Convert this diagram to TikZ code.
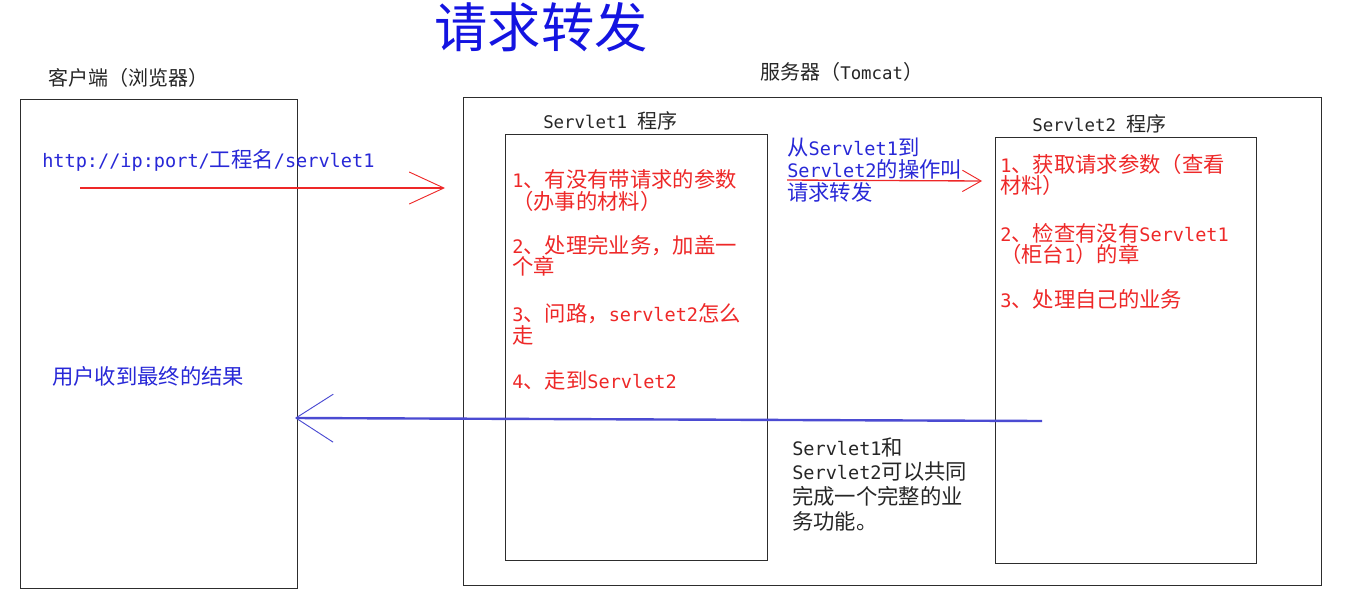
\documentclass[tikz,border=0pt]{standalone}
\usepackage{fontspec}
\setmainfont{Noto Sans CJK SC}
\newfontfamily\latfont{DejaVu Sans Mono}[Scale=0.87]
\newcommand\lat[1]{{\latfont #1}}
\usetikzlibrary{arrows.meta}
\definecolor{rtxt}{RGB}{238,40,40}
\definecolor{btxt}{RGB}{40,40,215}
\definecolor{ttl}{RGB}{20,20,225}
\definecolor{barrow}{RGB}{75,75,210}
\definecolor{frame}{RGB}{45,45,45}
\tikzset{
  box/.style={draw=frame, line width=1.1pt, anchor=north west, inner sep=0pt},
  lbl/.style={anchor=west, inner sep=0pt, font=\fontsize{15pt}{17pt}\selectfont, text=black!85},
  redtxt/.style={anchor=west, inner sep=0pt, align=left, text=rtxt, font=\fontsize{16pt}{16pt}\selectfont},
  bluetxt/.style={anchor=west, inner sep=0pt, align=left, text=btxt, font=\fontsize{16pt}{17pt}\selectfont},
  notetxt/.style={anchor=west, inner sep=0pt, align=left, text=black!85, font=\fontsize{16pt}{18.5pt}\selectfont},
}
\begin{document}
\begin{tikzpicture}[x=0.75pt,y=-0.75pt]
\useasboundingbox[fill=white] (0,0) rectangle (1345,597);
% title
\node[inner sep=0pt, text=ttl, font=\fontsize{40pt}{42pt}\selectfont] (title) at (541,27) {请求转发};
% labels
\node[lbl] (clientlbl) at (48,78) {客户端（浏览器）};
\node[lbl] (serverlbl) at (760,72) {服务器（\lat{Tomcat}）};
\node[lbl] (s1lbl) at (543,121) {\lat{Servlet1 }程序};
\node[lbl] (s2lbl) at (1032,124) {\lat{Servlet2 }程序};
% boxes
\node[box, minimum width=207.75pt, minimum height=366.75pt] (client) at (20,99) {};
\node[box, minimum width=643.5pt, minimum height=366pt] (server) at (463,97) {};
\node[box, minimum width=196.5pt, minimum height=319.5pt] (s1) at (505,134) {};
\node[box, minimum width=195.75pt, minimum height=319.5pt] (s2) at (995,137) {};
% client texts
\node[bluetxt] (url) at (42,160) {\lat{http://ip:port/}工程名\lat{/servlet1}};
\node[bluetxt] (result) at (52,376) {用户收到最终的结果};
% servlet1 items
\node[redtxt] (a1) at (512,190.5) {\lat{1}、有没有带请求的参数\\（办事的材料）};
\node[redtxt] (a2) at (512,255.5) {\lat{2}、处理完业务，加盖一\\个章};
\node[redtxt] (a3) at (512,324.5) {\lat{3}、问路，\lat{servlet2}怎么\\走};
\node[redtxt] (a4) at (512,380) {\lat{4}、走到\lat{Servlet2}};
% servlet2 items
\node[redtxt] (b1) at (1000,175) {\lat{1}、获取请求参数（查看\\材料）};
\node[redtxt] (b2) at (1000,244) {\lat{2}、检查有没有\lat{Servlet1}\\（柜台\lat{1}）的章};
\node[redtxt] (b3) at (1000,299) {\lat{3}、处理自己的业务};
% middle texts
\node[bluetxt] (fwd) at (787,170) {从\lat{Servlet1}到\\\lat{Servlet2}的操作叫\\请求转发};
\node[notetxt] (note) at (792,484) {\lat{Servlet1}和\\\lat{Servlet2}可以共同\\完成一个完整的业\\务功能。};
% arrows
\coordinate (r1s) at (80,188);
\coordinate (r1e) at (445,188);
\draw[draw=rtxt, line width=1pt, -{Straight Barb[length=26pt,width=24pt,line width=0.7pt]}] (r1s) -- (r1e);
\coordinate (r2s) at (787,180);
\coordinate (r2e) at (982,181);
\draw[draw=rtxt, line width=1pt, -{Straight Barb[length=14pt,width=16pt,line width=0.7pt]}] (r2s) -- (r2e);
\coordinate (bs) at (1042,421);
\coordinate (be) at (295,418);
\draw[draw=barrow, line width=1.8pt, -{Straight Barb[length=28pt,width=36pt,line width=0.7pt]}] (bs) -- (be);
\end{tikzpicture}
\end{document}
